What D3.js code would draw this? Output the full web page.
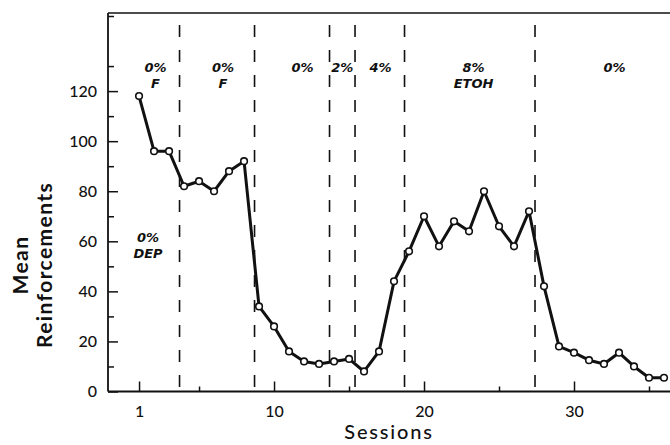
<!DOCTYPE html>
<html><head><meta charset="utf-8">
<script src="https://cdn.jsdelivr.net/npm/d3@7"></script>
<style>body{margin:0;background:#fff}svg{display:block}</style>
</head><body>
<script>
const sessions = d3.range(1, 37);
const reinforcements = [118, 96, 96, 82, 84, 80, 88, 92, 34, 26, 16, 12, 11, 12, 13, 8, 16, 44, 56, 70, 58, 68, 64, 80, 66, 58, 72, 42, 18, 15.5, 12.5, 11, 15.5, 10, 5.5, 5.5];
const phaseBoundaries = [3.7, 8.7, 13.7, 15.4, 18.7, 27.4];
const yTicks = [0, 20, 40, 60, 80, 100, 120];
const xTicks = [1, 10, 20, 30];
const xMinorTicks = [5, 15, 25, 35];
const phaseLabels = [
  {session: 2.1, lines: ["0%", "F"]},
  {session: 6.6, lines: ["0%", "F"]},
  {session: 11.9, lines: ["0%"]},
  {session: 14.55, lines: ["2%"]},
  {session: 17.1, lines: ["4%"]},
  {session: 23.3, lines: ["8%", "ETOH"]},
  {session: 32.7, lines: ["0%"]}
];
const depLabel = {session: 1.6, value: 62, lines: ["0%", "DEP"]};

const W = 670, H = 445;
const svg = d3.select("body").append("svg").attr("width", W).attr("height", H);
const x = d3.scaleLinear().domain([-1.07, 36.4]).range([108, 670]);
const y = d3.scaleLinear().domain([0, 151.2]).range([391.5, 13]);

const ink = "#111";
// frame: top line
svg.append("line").attr("x1", 108).attr("x2", 670).attr("y1", y(151.2)).attr("y2", y(151.2)).attr("stroke", ink).attr("stroke-width", 1.5);

// y axis
const yAxis = d3.axisLeft(y).tickValues(yTicks).tickSize(10).tickPadding(6).tickFormat(d3.format("d"));
const gy = svg.append("g").attr("transform", `translate(${x(-1.07)},0)`).call(yAxis);
gy.select(".domain").remove();
gy.selectAll(".tick line").attr("stroke", ink).attr("stroke-width", 1.5).attr("x1", 0).attr("x2", 10);
gy.selectAll(".tick text").attr("font-family", "Lato, 'DejaVu Sans', sans-serif").attr("font-size", 16).attr("font-weight", 500).attr("fill", ink).attr("x", -11);
const gyMinor = svg.append("g").attr("transform", `translate(${x(-1.07)},0)`)
  .call(d3.axisLeft(y).tickValues(d3.range(10, 151, 20)).tickSize(0).tickFormat(""));
gyMinor.select(".domain").remove();
gyMinor.selectAll(".tick line").attr("stroke", ink).attr("stroke-width", 1.5).attr("x1", 0).attr("x2", 6);
svg.append("line").attr("x1", x(-1.07)).attr("x2", x(-1.07)).attr("y1", y(151.2)).attr("y2", y(0)).attr("stroke", ink).attr("stroke-width", 1.8);

// x axis
const xAxis = d3.axisBottom(x).tickValues(xTicks).tickSize(0).tickPadding(14).tickFormat(d3.format("d"));
const gx = svg.append("g").attr("transform", `translate(0,${y(0)})`).call(xAxis);
gx.select(".domain").remove();
gx.selectAll(".tick line").attr("stroke", ink).attr("stroke-width", 1.5).attr("y1", 0).attr("y2", -10);
gx.selectAll(".tick text").attr("font-family", "Lato, 'DejaVu Sans', sans-serif").attr("font-size", 16).attr("font-weight", 500).attr("fill", ink);
const gxMinor = svg.append("g").attr("transform", `translate(0,${y(0)})`)
  .call(d3.axisBottom(x).tickValues(xMinorTicks).tickSize(0).tickFormat(""));
gxMinor.select(".domain").remove();
gxMinor.selectAll(".tick line").attr("stroke", ink).attr("stroke-width", 1.5).attr("y1", 0).attr("y2", -5);
svg.append("line").attr("x1", x(-1.07)).attr("x2", 670).attr("y1", y(0)).attr("y2", y(0)).attr("stroke", ink).attr("stroke-width", 2);

// dashed phase boundaries
svg.append("g").selectAll("line").data(phaseBoundaries).join("line")
  .attr("x1", d => x(d)).attr("x2", d => x(d))
  .attr("y1", 25).attr("y2", y(0))
  .attr("stroke", ink).attr("stroke-width", 1.6).attr("stroke-dasharray", "12,13");

// data line
const line = d3.line().x((d, i) => x(sessions[i])).y(d => y(d));
svg.append("path").datum(reinforcements).attr("d", line).attr("fill", "none").attr("stroke", ink).attr("stroke-width", 3).attr("stroke-linejoin", "round");
svg.append("g").selectAll("circle").data(reinforcements).join("circle")
  .attr("cx", (d, i) => x(sessions[i])).attr("cy", d => y(d)).attr("r", 3.3)
  .attr("fill", "#fff").attr("stroke", ink).attr("stroke-width", 1.6);

// phase labels
const lab = svg.append("g").attr("font-family", "'DejaVu Sans', sans-serif").attr("font-style", "italic").attr("font-weight", "bold").attr("font-size", 13).attr("fill", ink).attr("text-anchor", "middle");
phaseLabels.forEach(p => {
  p.lines.forEach((t, j) => {
    lab.append("text").attr("x", x(p.session)).attr("y", 72 + j * 16).text(t);
  });
});
depLabel.lines.forEach((t, j) => {
  lab.append("text").attr("x", x(depLabel.session)).attr("y", 242 + j * 16).text(t);
});

// axis titles
svg.append("text").attr("x", 389).attr("y", 439).attr("text-anchor", "middle")
  .attr("font-family", "Lato, 'DejaVu Sans', sans-serif").attr("font-size", 20).attr("font-weight", 500).attr("letter-spacing", 1.8).attr("fill", ink).text("Sessions");
const yt = svg.append("text").attr("transform", "translate(0,265) rotate(-90)").attr("text-anchor", "middle")
  .attr("font-family", "Lato, 'DejaVu Sans', sans-serif").attr("font-size", 21).attr("font-weight", 700).attr("letter-spacing", 1.4).attr("fill", ink);
yt.append("tspan").attr("x", 0).attr("y", 28).text("Mean");
yt.append("tspan").attr("x", 0).attr("y", 52).text("Reinforcements");
</script>
</body></html>
